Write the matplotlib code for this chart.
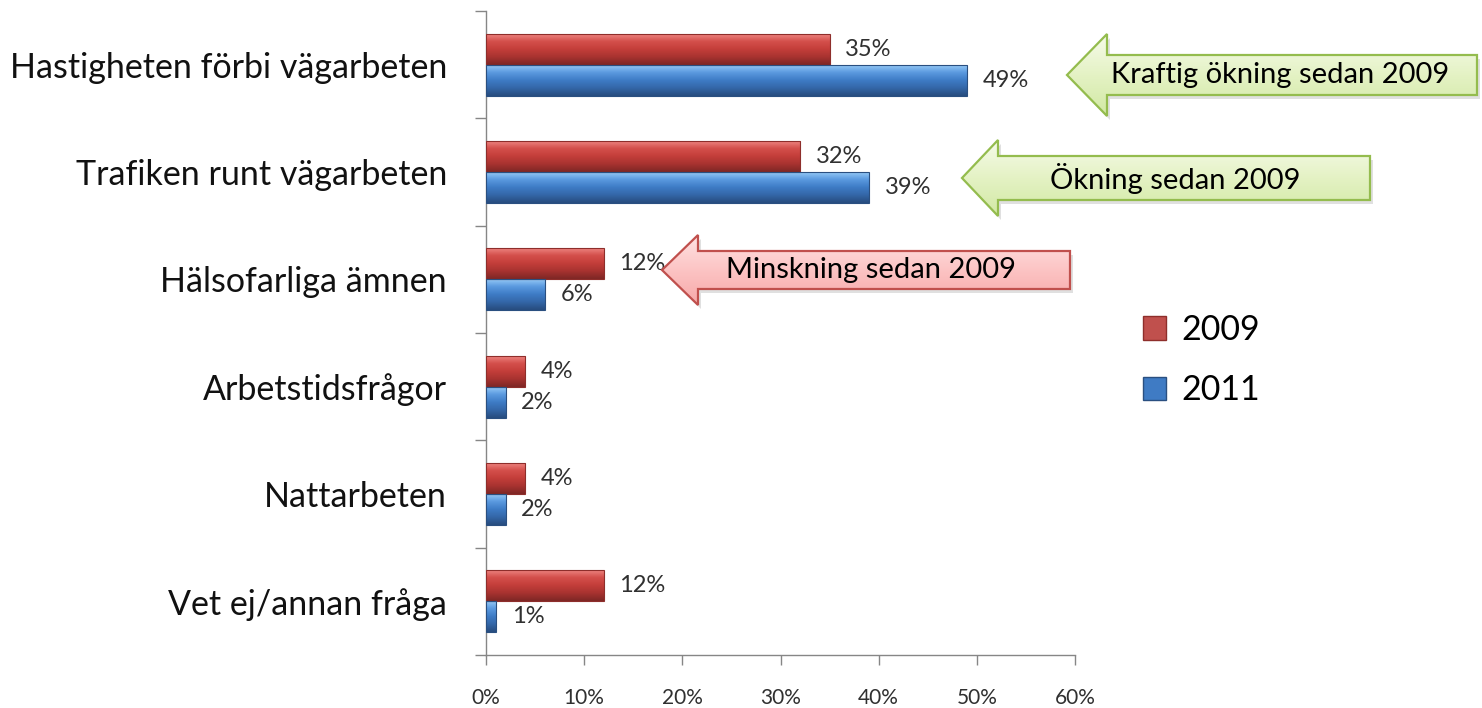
import numpy as np
import matplotlib
matplotlib.use('Agg')
import matplotlib.pyplot as plt
from matplotlib.patches import Polygon, Patch
from matplotlib.colors import LinearSegmentedColormap

categories = ["Hastigheten förbi vägarbeten", "Trafiken runt vägarbeten",
              "Hälsofarliga ämnen", "Arbetstidsfrågor", "Nattarbeten",
              "Vet ej/annan fråga"]
values_2009 = [35, 32, 12, 4, 4, 12]
values_2011 = [49, 39, 6, 2, 2, 1]
series_labels = ["2009", "2011"]
x_ticks = [0, 10, 20, 30, 40, 50, 60]
x_tick_labels = ["0%", "10%", "20%", "30%", "40%", "50%", "60%"]
callout_texts = ["Kraftig ökning sedan 2009", "Ökning sedan 2009", "Minskning sedan 2009"]

plt.rcParams['font.family'] = ['Lato', 'DejaVu Sans']

W, H = 1482, 708
fig = plt.figure(figsize=(W / 100, H / 100), dpi=100)
ax = fig.add_axes([486 / W, 1 - 655 / H, (1075 - 486) / W, (655 - 11) / H])

y = np.arange(len(categories))
h = 0.29
bars09 = ax.barh(y - h / 2, values_2009, height=h, color='#C0504D',
                 edgecolor='#8E2E2B', linewidth=0.8, zorder=3)
bars11 = ax.barh(y + h / 2, values_2011, height=h, color='#3F7BC4',
                 edgecolor='#2A4F80', linewidth=0.8, zorder=3)

def gradient_fill(bars, colors):
    cmap = LinearSegmentedColormap.from_list('g', colors)
    grad = np.linspace(0, 1, 64).reshape(-1, 1)
    for b in bars:
        x0, y0 = b.get_x(), b.get_y()
        w, hh = b.get_width(), b.get_height()
        im = ax.imshow(grad, cmap=cmap, extent=(x0, x0 + w, y0 + hh, y0),
                       origin='upper', aspect='auto', zorder=3.5,
                       interpolation='bicubic')
        im.set_clip_path(b)

gradient_fill(bars09, ['#F08A86', '#D4504C', '#C43E3A', '#A83330', '#7E2725'])
gradient_fill(bars11, ['#9CCEF8', '#5C9BE0', '#3E7CC6', '#3467A8', '#274C7E'])
for b in list(bars09) + list(bars11):
    b.set_facecolor('none')
    b.set_zorder(4)

for yi, v in zip(y, values_2009):
    ax.text(v + 1.6, yi - h / 2, f"{v}%", va='center', ha='left',
            fontsize=17, color='#303030', zorder=5)
for yi, v in zip(y, values_2011):
    ax.text(v + 1.6, yi + h / 2, f"{v}%", va='center', ha='left',
            fontsize=17, color='#303030', zorder=5)

ax.set_xlim(0, 60)
ax.set_ylim(len(categories) - 0.5, -0.5)
ax.set_xticks(x_ticks)
ax.set_xticklabels(x_tick_labels, fontsize=15, color='#303030')
ax.set_yticks(y)
ax.set_yticklabels(categories, fontsize=24.5, color='#111111')
ax.set_yticks(np.arange(len(categories) + 1) - 0.5, minor=True)
ax.tick_params(axis='y', which='major', length=0, pad=28)
ax.tick_params(axis='y', which='minor', length=8, color='#868686', width=1)
ax.tick_params(axis='x', which='major', length=7, color='#868686', width=1,
               direction='out', pad=17)
for s in ['top', 'right']:
    ax.spines[s].set_visible(False)
for s in ['left', 'bottom']:
    ax.spines[s].set_color('#868686')
    ax.spines[s].set_linewidth(1)

handles = [Patch(facecolor='#C0504D', edgecolor='#8E2E2B'),
           Patch(facecolor='#3F7BC4', edgecolor='#2A4F80')]
fig.legend(handles, series_labels, loc='center left',
           bbox_to_anchor=(1112 / W, 1 - 360 / H), frameon=False, fontsize=24.5,
           handlelength=0.7, handleheight=0.7, handletextpad=0.45,
           labelspacing=0.85)

# overlay for callout arrows, in pixel coordinates
ov = fig.add_axes([0, 0, 1, 1], zorder=10)
ov.set_xlim(0, W)
ov.set_ylim(H, 0)
ov.axis('off')
ov.patch.set_visible(False)

def left_arrow(tip_x, tip_y, back_x, head_half, body_half, right_x):
    return [(tip_x, tip_y), (back_x, tip_y - head_half), (back_x, tip_y - body_half),
            (right_x, tip_y - body_half), (right_x, tip_y + body_half),
            (back_x, tip_y + body_half), (back_x, tip_y + head_half)]

arrows = [
    (left_arrow(1067, 75, 1107, 41, 20, 1477), ['#F6FBEA', '#E4F2C4', '#D2E9A4'], '#94BC4E', 1280),
    (left_arrow(962, 178, 998, 38, 22, 1370), ['#F6FBEA', '#E4F2C4', '#D2E9A4'], '#94BC4E', 1175),
    (left_arrow(662, 270, 698, 35, 19, 1070), ['#FFE2E2', '#FCC4C4', '#F7A8A8'], '#C0504D', 871),
]
for (pts, cols, ec, tx), txt in zip(arrows, callout_texts):
    shadow = Polygon([(px + 3, py + 4) for px, py in pts], closed=True,
                     facecolor='#000000', alpha=0.12, edgecolor='none')
    ov.add_patch(shadow)
    poly = Polygon(pts, closed=True, facecolor='none', edgecolor=ec, linewidth=1.6, zorder=3)
    ov.add_patch(poly)
    xs = [p[0] for p in pts]
    ys = [p[1] for p in pts]
    cmap = LinearSegmentedColormap.from_list('a', cols)
    grad = np.linspace(0, 1, 64).reshape(-1, 1)
    im = ov.imshow(grad, cmap=cmap, extent=(min(xs), max(xs), max(ys), min(ys)),
                   origin='upper', aspect='auto', zorder=2)
    im.set_clip_path(poly)
    ov.text(tx, pts[0][1], txt, ha='center', va='center', fontsize=21,
            color='#000000', zorder=4)
ov.set_xlim(0, W)
ov.set_ylim(H, 0)

fig.savefig('out.png', dpi=100)
